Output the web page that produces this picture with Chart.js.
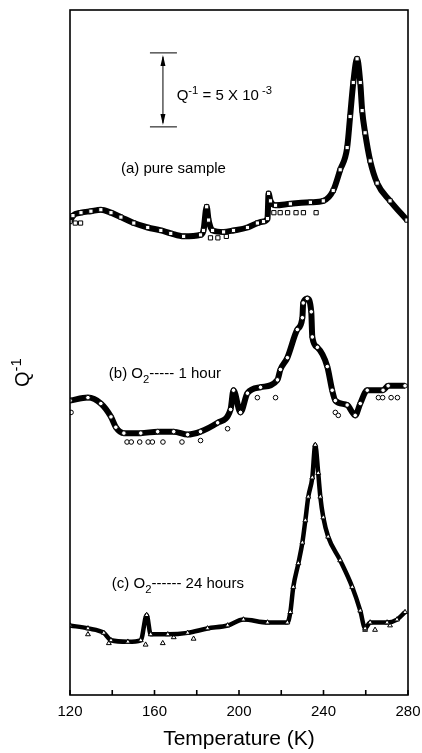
<!DOCTYPE html>
<html lang="en">
<head>
  <meta charset="UTF-8">
  <title>Q-1 vs Temperature</title>
  <script src="https://cdnjs.cloudflare.com/ajax/libs/Chart.js/4.4.0/chart.umd.min.js"></script>
  <style>
    html, body { margin: 0; padding: 0; background: #fff; }
  </style>
</head>
<body>
  <canvas id="myChart" width="422" height="753"></canvas>

  <script>
  // temperature in K, Q^-1 in units of 1e-3 (curves shifted vertically)
  var tempA = [120, 121.4, 125.2, 129.9, 134.6, 139.4, 144.1, 150.2, 156.8, 163.0, 167.7, 173.8, 181.8, 183.2, 184.7, 185.6, 187.5, 192.7, 197.4, 204.0, 208.7, 211.6, 213.5, 214.0, 214.9, 217.3, 224.3, 233.8, 239.9, 244.6, 247.9, 251.2, 252.6, 254.1, 255.9, 257.4, 258.3, 259.7, 262.1, 265.4, 271.5, 279.5];
  var qA    = [32.0, 32.4, 32.6, 32.7, 32.8, 32.6, 32.3, 31.9, 31.6, 31.4, 31.2, 31.0, 31.1, 31.4, 33.0, 32.1, 31.4, 31.3, 31.4, 31.6, 31.9, 32.0, 32.2, 33.9, 33.4, 33.1, 33.2, 33.3, 33.4, 34.1, 35.5, 37.0, 39.1, 41.4, 43.0, 41.4, 39.5, 38.0, 36.1, 34.6, 33.4, 32.1];
  var tempAOut = [122.5, 125, 186.5, 190, 194, 216.5, 219.5, 223, 227, 230.5, 236.5];
  var qAOut    = [31.9, 31.9, 30.9, 30.9, 31.0, 32.6, 32.6, 32.6, 32.6, 32.6, 32.6];

  var tempB = [120, 128.5, 134.6, 139.4, 141.7, 145.5, 153.5, 161.5, 169.1, 175.7, 181.8, 189.9, 196.0, 197.4, 200.7, 204.0, 210.2, 218.2, 219.6, 222.9, 227.6, 230.0, 230.4, 232.3, 234.2, 234.7, 237.1, 241.8, 244.1, 245.6, 251.2, 255.0, 257.4, 260.7, 268.2, 270.6, 278.6];
  var qB    = [19.9, 20.1, 19.7, 18.8, 18.1, 17.7, 17.7, 17.8, 17.8, 17.6, 17.8, 18.4, 19.3, 20.6, 19.1, 20.4, 20.8, 21.3, 22.0, 22.8, 24.7, 25.5, 26.5, 26.8, 25.9, 24.2, 23.5, 22.2, 20.6, 19.9, 19.6, 18.9, 19.7, 20.6, 20.6, 20.9, 20.9];
  var tempBOut = [120.5, 147, 149, 153, 157, 159, 164, 173, 181.8, 194.6, 208.7, 217.3, 245.6, 247, 266, 268, 272, 275];
  var qBOut    = [19.1, 17.1, 17.1, 17.1, 17.1, 17.1, 17.1, 17.1, 17.2, 18.0, 20.1, 20.1, 19.1, 18.9, 20.1, 20.1, 20.1, 20.1];

  var tempC = [120, 128.5, 136.0, 139.4, 147.4, 153.5, 156.3, 158.2, 166.3, 175.7, 185.1, 194.6, 202.1, 213.5, 222.9, 224.3, 225.7, 228.1, 230.0, 231.4, 232.8, 234.7, 236.1, 237.5, 238.5, 239.9, 242.2, 247.9, 253.6, 257.4, 259.7, 262.1, 270.1, 274.8, 278.6];
  var qC    = [4.7, 4.5, 4.2, 3.7, 3.6, 3.7, 5.4, 4.1, 4.1, 4.2, 4.5, 4.7, 5.1, 4.9, 4.9, 5.6, 7.3, 8.9, 10.3, 11.8, 13.4, 14.7, 16.9, 15.0, 13.4, 12.0, 10.7, 9.1, 7.3, 5.7, 4.5, 4.9, 4.9, 5.1, 5.6];
  var tempCOut = [128.5, 138.4, 155.8, 163.9, 169.1, 178.5, 259.7, 264.4, 271.5];
  var qCOut    = [4.1, 3.5, 3.4, 3.5, 3.9, 3.8, 4.4, 4.4, 4.7];

  var xTickLabels = [120, 160, 200, 240, 280];

  function pts(xs, ys) {
    return xs.map(function(x, i) { return { x: x, y: ys[i] }; });
  }

  var FONT = '"Liberation Sans", Arial, sans-serif';

  function series(xs, ys, shape, r, w) {
    return {
      data: pts(xs, ys),
      showLine: true,
      borderColor: '#000',
      borderWidth: w,
      cubicInterpolationMode: 'monotone',
      pointStyle: shape,
      pointRadius: r,
      pointBorderWidth: 1,
      pointBorderColor: '#000',
      pointBackgroundColor: '#fff'
    };
  }
  function outliers(xs, ys, shape, r) {
    return {
      data: pts(xs, ys),
      showLine: false,
      pointStyle: shape,
      pointRadius: r,
      pointBorderWidth: 1,
      pointBorderColor: '#000',
      pointBackgroundColor: '#fff'
    };
  }

  // text with super/subscripts
  function drawRich(ctx, parts, x, y, size) {
    parts.forEach(function(p) {
      var s = (p.sup || p.sub) ? size * 0.75 : size;
      ctx.font = s + 'px ' + FONT;
      var dy = p.sup ? -size * 0.42 : (p.sub ? size * 0.3 : 0);
      ctx.fillText(p.t, x, y + dy);
      x += ctx.measureText(p.t).width;
    });
  }
  function richWidth(ctx, parts, size) {
    var w = 0;
    parts.forEach(function(p) {
      ctx.font = ((p.sup || p.sub) ? size * 0.75 : size) + 'px ' + FONT;
      w += ctx.measureText(p.t).width;
    });
    return w;
  }

  var decor = {
    id: 'decor',
    afterDraw: function(chart) {
      var ctx = chart.ctx, a = chart.chartArea;
      var xs = chart.scales.x, ys = chart.scales.y;
      ctx.save();
      ctx.strokeStyle = '#000';
      ctx.fillStyle = '#000';
      ctx.lineWidth = 1.6;
      ctx.strokeRect(a.left, a.top, a.right - a.left, a.bottom - a.top);

      // inward tick marks
      xs.ticks.forEach(function(t) {
        var px = xs.getPixelForValue(t.value);
        ctx.beginPath();
        ctx.moveTo(px, a.bottom);
        ctx.lineTo(px, a.bottom - 5);
        ctx.stroke();
      });

      // scale bar: 5 x 1e-3
      var bx = xs.getPixelForValue(164);
      var y1 = ys.getPixelForValue(43.4), y2 = ys.getPixelForValue(38.4);
      ctx.lineWidth = 1;
      ctx.beginPath();
      ctx.moveTo(bx - 13, y1); ctx.lineTo(bx + 14, y1);
      ctx.moveTo(bx - 13, y2); ctx.lineTo(bx + 14, y2);
      ctx.moveTo(bx, y1 + 4); ctx.lineTo(bx, y2 - 4);
      ctx.stroke();
      ctx.beginPath();
      ctx.moveTo(bx, y1 + 2); ctx.lineTo(bx - 2.5, y1 + 13); ctx.lineTo(bx + 2.5, y1 + 13); ctx.closePath();
      ctx.moveTo(bx, y2 - 2); ctx.lineTo(bx - 2.5, y2 - 13); ctx.lineTo(bx + 2.5, y2 - 13); ctx.closePath();
      ctx.fill();

      ctx.textBaseline = 'alphabetic';
      ctx.textAlign = 'left';
      var notes = [
        { t: 170.5, q: 40.2, parts: [{ t: 'Q' }, { t: '-1', sup: true }, { t: ' = 5 X 10' }, { t: ' -3', sup: true }] },
        { t: 144.1, q: 35.3, parts: [{ t: '(a) pure sample' }] },
        { t: 138.4, q: 21.4, parts: [{ t: '(b) O' }, { t: '2', sub: true }, { t: '----- 1 hour' }] },
        { t: 139.8, q: 7.2,  parts: [{ t: '(c) O' }, { t: '2', sub: true }, { t: '------ 24 hours' }] }
      ];
      notes.forEach(function(n) {
        drawRich(ctx, n.parts, xs.getPixelForValue(n.t), ys.getPixelForValue(n.q), 15);
      });

      // y axis title
      var yt = [{ t: 'Q' }, { t: '-1', sup: true }];
      ctx.translate(29, (a.top + a.bottom) / 2 + 20);
      ctx.rotate(-Math.PI / 2);
      drawRich(ctx, yt, -richWidth(ctx, yt, 20) / 2, 0, 20);
      ctx.restore();
    }
  };

  var ctx = document.getElementById('myChart');
  var myChart = new Chart(ctx, {
    type: 'scatter',
    data: {
      datasets: [
        series(tempA, qA, 'rect', 3, 6),
        outliers(tempAOut, qAOut, 'rect', 3),
        series(tempB, qB, 'circle', 2.3, 6),
        outliers(tempBOut, qBOut, 'circle', 2.3),
        series(tempC, qC, 'triangle', 2.8, 4.5),
        outliers(tempCOut, qCOut, 'triangle', 2.8)
      ]
    },
    options: {
      responsive: false,
      animation: false,
      devicePixelRatio: 1,
      layout: { padding: { top: 10, right: 14, left: 0, bottom: 0 } },
      plugins: { legend: { display: false }, tooltip: { enabled: false } },
      scales: {
        x: {
          type: 'linear',
          min: 120,
          max: 280,
          grid: { display: false, drawTicks: false, tickLength: 0 },
          border: { display: false },
          ticks: {
            stepSize: 20,
            autoSkip: false,
            maxRotation: 0,
            padding: 8,
            color: '#000',
            font: { family: FONT, size: 15 },
            callback: function(v) { return xTickLabels.indexOf(v) >= 0 ? String(v) : ''; }
          },
          title: {
            display: true,
            text: 'Temperature (K)',
            color: '#000',
            padding: { top: 0, bottom: 3 },
            font: { family: FONT, size: 21, lineHeight: 1 }
          },
          afterFit: function(s) { s.height = 58; s.paddingLeft = 0; s.paddingRight = 0; }
        },
        y: {
          min: 0,
          max: 46.3,
          grid: { display: false },
          border: { display: false },
          ticks: { display: false },
          afterFit: function(s) { s.width = 70; }
        }
      }
    },
    plugins: [decor]
  });
  </script>
</body>
</html>
